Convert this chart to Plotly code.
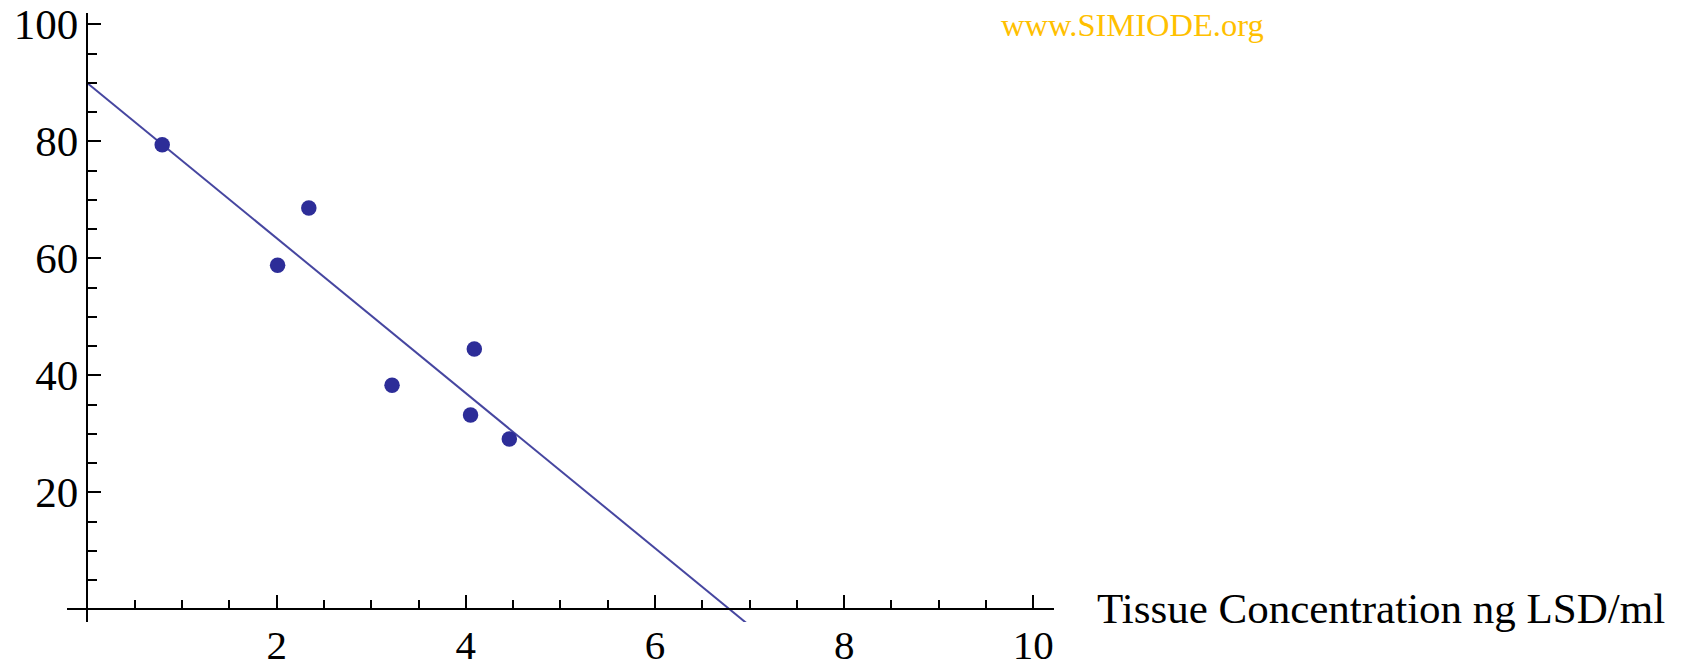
import numpy as np
import plotly.graph_objects as go

# Observed tissue concentration (ng LSD/ml) and test scores
concentration = [0.79, 2.01, 2.34, 3.22, 4.09, 4.05, 4.46]
score = [79.4, 58.8, 68.6, 38.3, 44.5, 33.2, 29.1]

# Tick values
x_major = [2, 4, 6, 8, 10]
x_minor = [0.5, 1, 1.5, 2.5, 3, 3.5, 4.5, 5, 5.5, 6.5, 7, 7.5, 8.5, 9, 9.5]
y_major = [20, 40, 60, 80, 100]
y_minor = [5, 10, 15, 25, 30, 35, 45, 50, 55, 65, 70, 75, 85, 90, 95]

# Interval over which the least-squares line is drawn
fit_domain = [0, 7]

slope, intercept = np.polyfit(concentration, score, 1)
fit_x = np.array(fit_domain, dtype=float)
fit_y = intercept + slope * fit_x

x_range = [-0.2167, 10.219]
y_range = [-2.17, 101.93]

LINE_COLOR = "#4646A0"
POINT_COLOR = "#2D2D98"
SERIF = "Liberation Serif, Times New Roman, serif"

fig = go.Figure()
fig.add_trace(go.Scatter(
    x=fit_x, y=fit_y, mode="lines",
    line=dict(color=LINE_COLOR, width=2),
    cliponaxis=False, showlegend=False, hoverinfo="skip",
))
fig.add_trace(go.Scatter(
    x=concentration, y=score, mode="markers",
    marker=dict(color=POINT_COLOR, size=15.5, line=dict(width=0)),
    showlegend=False,
))

axis_common = dict(
    showgrid=False, zeroline=False, showline=True,
    linecolor="black", linewidth=1.5,
    ticks="inside", tickcolor="black", tickwidth=1.5,
    tickmode="array", automargin=False,
)

fig.update_layout(
    template="none",
    width=1690, height=671,
    margin=dict(l=67, r=636, t=13, b=49, pad=0),
    paper_bgcolor="white", plot_bgcolor="rgba(0,0,0,0)",
    xaxis=dict(
        **axis_common,
        range=x_range, tickvals=x_major, ticklen=14,
        ticklabelstandoff=0,
        tickfont=dict(family=SERIF, size=41, color="black"),
        anchor="free",
        position=(0 - y_range[0]) / (y_range[1] - y_range[0]),
        minor=dict(tickmode="array", tickvals=x_minor, ticks="inside",
                   ticklen=9, tickwidth=1.5, tickcolor="black"),
    ),
    yaxis=dict(
        **axis_common,
        range=y_range, tickvals=y_major, ticklen=13,
        tickfont=dict(family=SERIF, size=43, color="black"),
        anchor="free",
        position=(0 - x_range[0]) / (x_range[1] - x_range[0]),
        minor=dict(tickmode="array", tickvals=y_minor, ticks="inside",
                   ticklen=9, tickwidth=1.5, tickcolor="black"),
    ),
    annotations=[
        dict(
            text="Tissue Concentration ng LSD/ml",
            xref="paper", yref="paper", x=1.0415, y=0.022,
            xanchor="left", yanchor="middle", showarrow=False,
            font=dict(family=SERIF, size=43, color="black"),
        ),
        dict(
            text="www.SIMIODE.org",
            xref="paper", yref="paper", x=0.944, y=0.981,
            xanchor="left", yanchor="middle", showarrow=False,
            font=dict(family=SERIF, size=32.5, color="#FFC000"),
        ),
    ],
)

fig.write_html("out.html")
